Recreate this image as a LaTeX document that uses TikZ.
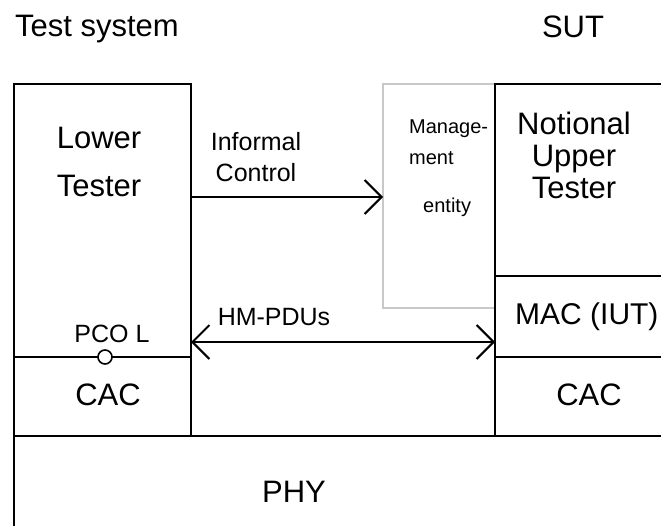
\documentclass[tikz,border=0pt]{standalone}
\usepackage{fontspec}
\setmainfont{Liberation Sans}
\usetikzlibrary{
    arrows.meta,
    positioning
}
\definecolor{mgmtgray}{RGB}{200,200,200}
\tikzset{
    % Box styles
    layer box/.style={
        draw=black,
        line width=2pt,
        rectangle,
        anchor=north west,
        inner sep=0pt,
        outer sep=0pt
    },
    mgmt box/.style={
        layer box,
        draw=mgmtgray
    },
    pco port/.style={
        circle,
        draw=black,
        fill=white,
        line width=1.6pt,
        inner sep=0pt,
        minimum size=14pt
    },
    % Text styles
    big text/.style={
        inner sep=0pt,
        align=center,
        font=\fontsize{31}{48}\selectfont
    },
    mid text/.style={
        inner sep=0pt,
        align=center,
        font=\fontsize{25}{31}\selectfont
    },
    small text/.style={
        inner sep=0pt,
        align=left,
        font=\fontsize{20}{31}\selectfont
    },
    % Arrow styles
    flow arrow/.style={
        -{Straight Barb[length=17pt,width=34pt]},
        line width=2pt
    },
    pdu flow/.style={
        {Straight Barb[length=17pt,width=34pt]}-{Straight Barb[length=17pt,width=34pt]},
        line width=2pt
    }
}

\begin{document}
\begin{tikzpicture}[x=1pt, y=-1pt]
    \useasboundingbox (0,0) rectangle (661,525);
    % management entity, behind the SUT boxes
    \node[mgmt box, minimum width=112pt, minimum height=224pt] (mgmt) at (383,84) {};
    % test system
    \node[layer box, minimum width=177pt, minimum height=273pt] (lower) at (14,84) {};
    \node[layer box, minimum width=177pt, minimum height=79pt] (lcac) at (14,357) {};
    \node[layer box, minimum width=658pt, minimum height=110pt] (phy) at (14,436) {};
    % SUT
    \node[layer box, minimum width=177pt, minimum height=192pt] (upper) at (495,84) {};
    \node[layer box, minimum width=177pt, minimum height=81pt] (mac) at (495,276) {};
    \node[layer box, minimum width=177pt, minimum height=79pt] (rcac) at (495,357) {};
    \node[pco port] (pco) at (105,357) {};

    % labels
    \node[big text, anchor=base] (ts title) at (97,36) {Test system};
    \node[big text, anchor=base] (sut title) at (573,37) {SUT};
    \node[big text, anchor=north] (lower label) at (99,127) {Lower\\Tester};
    \node[big text, anchor=north, font=\fontsize{31}{32}\selectfont] (upper label) at (574,112) {Notional\\Upper\\Tester};
    \node[mid text, anchor=north] (ctrl label) at (256,132) {Informal\\Control};
    \node[small text, anchor=north west] (mgmt label) at (409,120) {Manage-\\ment\\[17pt]\hspace*{14pt}entity};
    \node[mid text, anchor=base] (pco label) at (112,342) {PCO L};
    \node[mid text, anchor=base] (pdu label) at (274,325) {HM-PDUs};
    \node[big text, anchor=base west, font=\fontsize{30}{32}\selectfont] (mac label) at (515,324) {MAC (IUT)};
    \node[big text, anchor=base] (lcac label) at (108,405) {CAC};
    \node[big text, anchor=base] (rcac label) at (589,405) {CAC};
    \node[big text, anchor=base] (phy label) at (294,502) {PHY};

    % connectors
    \coordinate (ctrl level) at (0,197);
    \coordinate (pdu level) at (0,342);
    \draw[flow arrow] (lower.east |- ctrl level) -- (mgmt.west |- ctrl level);
    \draw[pdu flow] (lower.east |- pdu level) -- (upper.west |- pdu level);
\end{tikzpicture}
\end{document}
